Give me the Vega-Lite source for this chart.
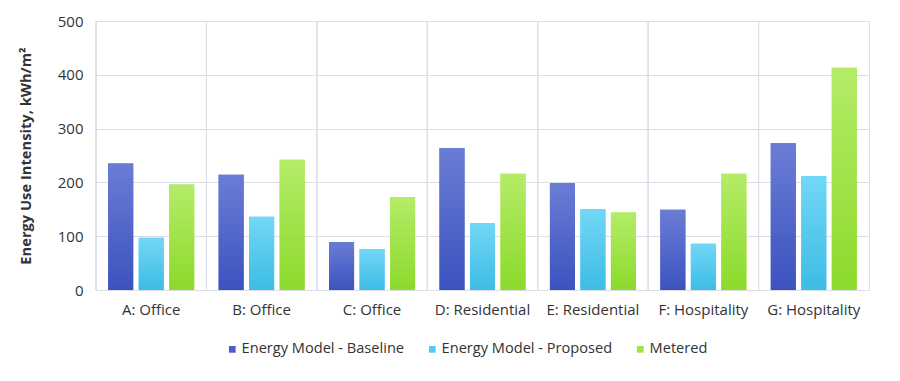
{
  "$schema": "https://vega.github.io/schema/vega-lite/v6.json",
  "autosize": "none",
  "width": 773,
  "height": 269,
  "padding": {"left": 96, "top": 21, "right": 31, "bottom": 91},
  "background": "white",
  "config": {
    "font": "Open Sans",
    "view": {"stroke": "#dcdfe8", "strokeWidth": 1},
    "axis": {"labelFont": "Open Sans", "titleFont": "Open Sans", "labelColor": "#333333", "titleColor": "#333333", "labelFontSize": 15, "gridColor": "#dcdfe8", "domain": false, "ticks": false},
    "legend": {"labelFont": "Open Sans", "labelFontSize": 14.6, "labelColor": "#333333", "labelLimit": 400}
  },
  "data": {"values": [
    {"building": "A: Office", "series": "Energy Model - Baseline", "eui": 235},
    {"building": "A: Office", "series": "Energy Model - Proposed", "eui": 97},
    {"building": "A: Office", "series": "Metered", "eui": 196},
    {"building": "B: Office", "series": "Energy Model - Baseline", "eui": 214},
    {"building": "B: Office", "series": "Energy Model - Proposed", "eui": 136},
    {"building": "B: Office", "series": "Metered", "eui": 242},
    {"building": "C: Office", "series": "Energy Model - Baseline", "eui": 89},
    {"building": "C: Office", "series": "Energy Model - Proposed", "eui": 76},
    {"building": "C: Office", "series": "Metered", "eui": 173},
    {"building": "D: Residential", "series": "Energy Model - Baseline", "eui": 264},
    {"building": "D: Residential", "series": "Energy Model - Proposed", "eui": 124},
    {"building": "D: Residential", "series": "Metered", "eui": 216},
    {"building": "E: Residential", "series": "Energy Model - Baseline", "eui": 199},
    {"building": "E: Residential", "series": "Energy Model - Proposed", "eui": 150},
    {"building": "E: Residential", "series": "Metered", "eui": 144},
    {"building": "F: Hospitality", "series": "Energy Model - Baseline", "eui": 149},
    {"building": "F: Hospitality", "series": "Energy Model - Proposed", "eui": 86},
    {"building": "F: Hospitality", "series": "Metered", "eui": 216},
    {"building": "G: Hospitality", "series": "Energy Model - Baseline", "eui": 273},
    {"building": "G: Hospitality", "series": "Energy Model - Proposed", "eui": 212},
    {"building": "G: Hospitality", "series": "Metered", "eui": 413}
  ]},
  "layer": [
    {
      "mark": {"type": "bar"},
      "encoding": {
        "x": {"field": "building", "type": "nominal", "title": null,
              "scale": {"paddingInner": 0, "paddingOuter": 0},
              "axis": {"labelAngle": 0, "labelPadding": 12, "grid": false, "bandPosition": 0.5, "labelAlign": "center"}},
        "xOffset": {"field": "series", "type": "nominal", "scale": {"paddingInner": 0.18, "paddingOuter": 0.4}},
        "y": {"field": "eui", "type": "quantitative", "title": "Energy Use Intensity, kWh/m²",
              "scale": {"domain": [0, 500]},
              "axis": {"values": [0, 100, 200, 300, 400, 500], "labelPadding": 13, "titleFontSize": 14.7, "titleFontWeight": "bold", "titlePadding": 24}},
        "color": {"field": "series", "type": "nominal", "title": null,
                  "scale": {"domain": ["Energy Model - Baseline", "Energy Model - Proposed", "Metered"], "range": ["#4a5fc8", "#55caef", "#a0e448"]},
                  "legend": {"orient": "none", "legendX": 129, "legendY": 321, "direction": "horizontal", "symbolType": "square", "symbolSize": 45, "symbolStrokeWidth": 0, "labelOffset": 2, "columnPadding": 20}}
      }
    },
    {
      "mark": {"type": "bar"},
      "encoding": {
        "x": {"field": "building", "type": "nominal"},
        "xOffset": {"field": "series", "type": "nominal"},
        "y": {"field": "eui", "type": "quantitative"},
        "fill": {
          "condition": [
            {"test": "datum.series === 'Energy Model - Baseline'", "value": {"gradient": "linear", "x1": 0, "y1": 0, "x2": 0, "y2": 1, "stops": [{"offset": 0, "color": "#6a7dd5"}, {"offset": 1, "color": "#3c52bf"}]}},
            {"test": "datum.series === 'Energy Model - Proposed'", "value": {"gradient": "linear", "x1": 0, "y1": 0, "x2": 0, "y2": 1, "stops": [{"offset": 0, "color": "#72d7f6"}, {"offset": 1, "color": "#3dbce5"}]}}
          ],
          "value": {"gradient": "linear", "x1": 0, "y1": 0, "x2": 0, "y2": 1, "stops": [{"offset": 0, "color": "#b4ec68"}, {"offset": 1, "color": "#8cda2c"}]}
        }
      }
    },
    {
      "mark": {"type": "rule", "color": "#dcdfe8", "strokeWidth": 1},
      "encoding": {
        "x": {"field": "building", "type": "nominal", "bandPosition": 0}
      }
    }
  ]
}
